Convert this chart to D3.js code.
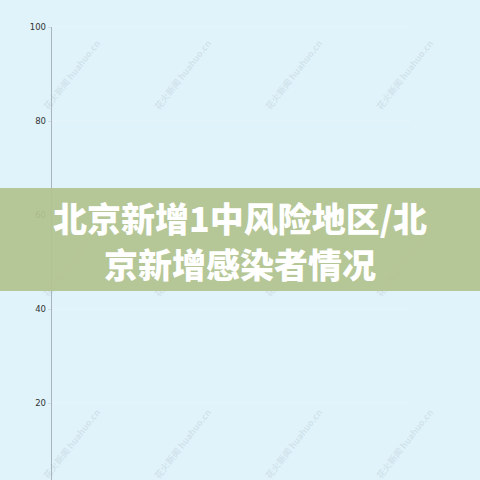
<!DOCTYPE html>
<html lang="zh">
<meta charset="utf-8">
<head>
    <script src="https://d3js.org/d3.v7.min.js"></script>
    <style>
        body { margin: 0; background: #e0f3fb; }
    </style>
</head>
<body>
<script>
// y ticks (0 sits just below the visible area)
const yTicks = [20, 40, 60, 80, 100];
const yDomain = [0, 100];
const titleLines = ["北京新增1中风险地区/北", "京新增感染者情况"];
const watermark = "花火新闻 huahuo.cn";

const W = 480, H = 480;
const margin = {top: 27, left: 51};
const plotBottom = 497;   // where 0 would be

var svg = d3.select("body")
    .append("svg")
    .attr("width", W)
    .attr("height", H);

svg.append("rect")
    .attr("width", W)
    .attr("height", H)
    .attr("fill", "#e0f3fb");

var y = d3.scaleLinear()
    .domain(yDomain)
    .range([plotBottom, margin.top]);

// faint gridlines
svg.append("g")
    .selectAll("line")
    .data(yTicks)
    .join("line")
    .attr("x1", margin.left)
    .attr("x2", 410)
    .attr("y1", d => y(d))
    .attr("y2", d => y(d))
    .attr("stroke", "#ffffff")
    .attr("stroke-opacity", 0.3);

// left axis
var yAxis = svg.append("g")
    .attr("transform", "translate(" + margin.left + ",0)")
    .call(d3.axisLeft(y).tickValues(yTicks).tickSize(3).tickPadding(2));
yAxis.select(".domain")
    .attr("stroke", "#aab4bc")
    .attr("d", "M0.5," + margin.top + "V" + H);
yAxis.selectAll(".tick line").attr("stroke", "#d0dde4");
yAxis.selectAll(".tick text")
    .attr("fill", "#333")
    .style("font-family", "'DejaVu Sans', sans-serif")
    .style("font-size", "8.5px");

// watermarks
var wm = [];
[72, 183, 294, 405].forEach(function(cx) {
    [75, 262, 444].forEach(function(cy) { wm.push([cx, cy]); });
});
svg.append("g")
    .selectAll("text")
    .data(wm)
    .join("text")
    .attr("transform", d => "translate(" + d[0] + "," + d[1] + ") rotate(-52)")
    .attr("text-anchor", "middle")
    .attr("dy", "0.35em")
    .attr("fill", "#9aa8b0")
    .attr("fill-opacity", 0.22)
    .style("font-family", "'Noto Sans CJK SC', sans-serif")
    .style("font-size", "9px")
    .style("font-weight", "bold")
    .text(watermark);

// title banner
svg.append("rect")
    .attr("x", 0)
    .attr("y", 188)
    .attr("width", W)
    .attr("height", 103)
    .attr("fill", "#b3c38f")
    .attr("fill-opacity", 0.93);

svg.append("g")
    .selectAll("text")
    .data(titleLines)
    .join("text")
    .attr("x", W / 2)
    .attr("y", (d, i) => 232 + i * 46)
    .attr("text-anchor", "middle")
    .attr("fill", "#ffffff")
    .style("font-family", "'Noto Sans CJK SC', sans-serif")
    .style("font-size", "34px")
    .style("font-weight", "900")
    .text(d => d);
</script>
</body>
</html>
